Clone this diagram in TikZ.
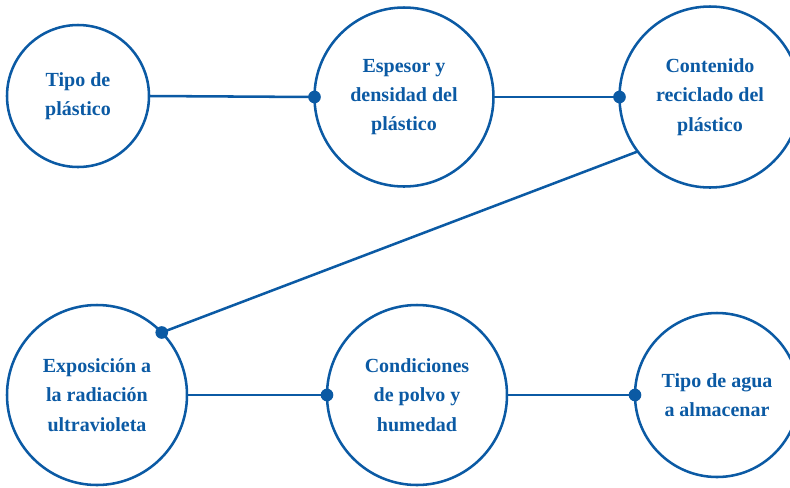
\documentclass[tikz,border=0pt]{standalone}
\usepackage{fontspec}
\setmainfont{Liberation Serif}
\definecolor{azul}{HTML}{0B5AA4}
\begin{document}
\begin{tikzpicture}[x=0.75pt,y=-0.75pt,
  tema/.style={circle,draw=azul,line width=1.9pt,inner sep=0pt,outer sep=0pt,
    align=center,text=azul,font=\fontsize{15}{22}\selectfont\bfseries},
  enlace/.style={draw=azul,line width=1.9pt},
  punto/.style={circle,fill=azul,inner sep=0pt,minimum size=9.5pt}]
\useasboundingbox (0,0) rectangle (790,487);
% fila de arriba
\node[tema,minimum size=106.5pt] (tipo) at (78,96) {Tipo de\\plástico};
\node[tema,minimum size=134.25pt] (espesor) at (404,97) {Espesor y\\densidad del\\plástico};
\node[tema,minimum size=135.75pt] (contenido) at (710,97) {Contenido\\reciclado del\\plástico};
% fila de abajo
\node[tema,minimum size=135pt] (uv) at (97,395) {Exposición a\\la radiación\\ultravioleta};
\node[tema,minimum size=135pt] (polvo) at (417,395) {Condiciones\\de polvo y\\humedad};
\node[tema,minimum size=123pt] (agua) at (717,395) {Tipo de agua\\a almacenar};

\draw[enlace] (tipo.east) -- (espesor.west);
\draw[enlace] (espesor.east) -- (contenido.west);
\draw[enlace] (contenido.217) -- (uv.44);
\draw[enlace] (uv.east) -- (polvo.west);
\draw[enlace] (polvo.east) -- (agua.west);

\node[punto] (p1) at (espesor.west) {};
\node[punto] (p2) at (contenido.west) {};
\node[punto] (p3) at (uv.44) {};
\node[punto] (p4) at (polvo.west) {};
\node[punto] (p5) at (agua.west) {};
\end{tikzpicture}
\end{document}
